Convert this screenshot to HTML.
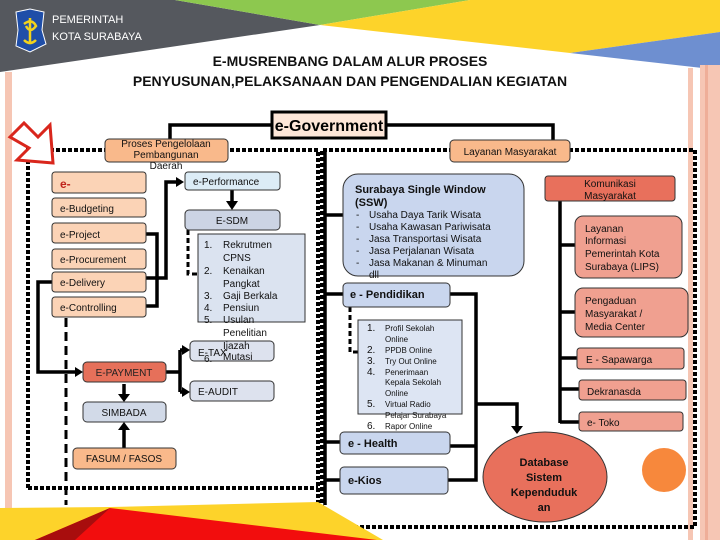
<!DOCTYPE html>
<html><head><meta charset="utf-8"><style>
html,body{margin:0;padding:0;background:#fff}
svg{display:block}
text{font-family:"Liberation Sans",sans-serif}
</style></head><body>
<svg width="720" height="540" viewBox="0 0 720 540" xmlns="http://www.w3.org/2000/svg">
<polygon points="0,0 175,0 320,25 0,72" fill="#55585e"/>
<polygon points="175,0 470,0 320,25" fill="#8dc84f"/>
<polygon points="320,25 470,0 720,0 720,32 570,53" fill="#fdd32a"/>
<polygon points="570,53 720,32 720,70" fill="#6e8fd0"/>
<rect x="5" y="72" width="7" height="468" fill="#f6c6b4"/>
<rect x="688" y="68" width="5" height="472" fill="#f6c6b4"/>
<rect x="700" y="65" width="20" height="475" fill="#f6c6b4"/>
<rect x="705" y="65" width="3" height="475" fill="#efae98"/>
<path d="M16,12 L30,9 L44,12 L42,30 L46,44 L30,52 L16,46 L18,30 Z" fill="#1f4ea8" stroke="#fff" stroke-width="1"/>
<path d="M24,24 q8,-6 12,2 q-6,8 -10,0 M30,18 v24 M24,40 q6,6 12,0" fill="none" stroke="#f2d21c" stroke-width="2.5"/>
<text x="52" y="23" font-size="11" fill="#fff">PEMERINTAH</text>
<text x="52" y="40" font-size="11" fill="#fff">KOTA SURABAYA</text>
<text x="350" y="66" font-size="14" font-weight="bold" text-anchor="middle" fill="#111">E-MUSRENBANG DALAM ALUR PROSES</text>
<text x="350" y="86" font-size="14" font-weight="bold" text-anchor="middle" fill="#111">PENYUSUNAN,PELAKSANAAN DAN PENGENDALIAN KEGIATAN</text>

<g fill="none" stroke="#000" stroke-width="4" stroke-dasharray="4,2">
<path d="M28,488 V150 H318 V505"/>
<path d="M28,488 H318"/>
<path d="M322,527 V150 H695 V527 H355"/>
</g>
<path d="M10,137 L24,123 L38,137 L50,125 L53,163 L17,160 L29,148 Z" fill="#fff" stroke="#d9261c" stroke-width="3"/>

<g fill="none" stroke="#000" stroke-width="3.5">
<path d="M272,125 H170 V140"/>
<path d="M386,125 H553 V140"/>
<path d="M146,234 H157 V278 H146"/>
<path d="M146,306 H157 V278 H166 V182 H180"/>
<path d="M52,282 H38 V372 H78"/>
<path d="M232,190 V204"/>
<path d="M166,372 H180"/>
<path d="M180,350 V392"/>
<path d="M180,350 H185 M180,392 H185"/>
<path d="M124,384 V398"/>
<path d="M124,448 V426"/>
<path d="M325,215 H343 M325,294 H343 M325,442 H340 M325,480 H340 M325,150 V505"/>
<path d="M450,294 H476 V480 H448 M450,446 H476 M476,404 H517 V430"/>
<path d="M560,200 V423 M560,245 H575 M560,312 H575 M560,358 H577 M560,389 H579 M560,422 H579"/>
</g>
<g fill="none" stroke="#000" stroke-width="3" stroke-dasharray="9,5">
<path d="M66,318 V505"/>
</g>
<g fill="none" stroke="#000" stroke-width="3" stroke-dasharray="5,3">
<path d="M188,230 V274 H198"/>
<path d="M350,307 V352 H358"/>
</g>
<g fill="#000">
<polygon points="184,182 176,177 176,187"/>
<polygon points="232,210 226,201 238,201"/>
<polygon points="83,372 75,367 75,377"/>
<polygon points="190,350 182,345 182,355"/>
<polygon points="190,392 182,387 182,397"/>
<polygon points="124,402 118,394 130,394"/>
<polygon points="124,422 118,430 130,430"/>
<polygon points="517,434 511,426 523,426"/>
</g>

<!-- bottom yellow/red shape -->
<polygon points="0,508 110,507 318,502 383,540 0,540" fill="#fdd32a"/>
<polygon points="35,540 110,508 377,540" fill="#f20d0d"/>
<polygon points="35,540 110,508 75,540" fill="#a80d0d"/>

<g stroke="#333" stroke-width="1">
<rect x="105" y="139" width="123" height="23" rx="4" fill="#f9b98b"/>
<rect x="52" y="172" width="94" height="21" rx="3" fill="#fbd3b6"/>
<rect x="52" y="198" width="94" height="19" rx="3" fill="#fbd3b6"/>
<rect x="52" y="223" width="94" height="20" rx="3" fill="#fbd3b6"/>
<rect x="52" y="249" width="94" height="20" rx="3" fill="#fbd3b6"/>
<rect x="52" y="272" width="94" height="20" rx="3" fill="#fbd3b6"/>
<rect x="52" y="297" width="94" height="20" rx="3" fill="#fbd3b6"/>
<rect x="185" y="172" width="95" height="18" rx="3" fill="#dcecf6"/>
<rect x="185" y="210" width="95" height="20" rx="4" fill="#ccd4e4"/>
<rect x="198" y="234" width="107" height="88" fill="#dbe3f0"/>
<rect x="190" y="341" width="84" height="20" rx="4" fill="#dde2ee"/>
<rect x="190" y="381" width="84" height="20" rx="4" fill="#dde2ee"/>
<rect x="83" y="362" width="83" height="20" rx="4" fill="#e6705a"/>
<rect x="83" y="402" width="83" height="20" rx="4" fill="#d2dae8"/>
<rect x="73" y="448" width="103" height="21" rx="4" fill="#f9b98b"/>
<rect x="272" y="112" width="114" height="26" fill="#fde6d8" stroke="#000" stroke-width="3"/>
</g>
<text x="329" y="131" font-size="16" font-weight="bold" text-anchor="middle">e-Government</text>
<g font-size="10" fill="#111">
<text x="166" y="147" text-anchor="middle">Proses Pengelolaan</text>
<text x="166" y="158" text-anchor="middle">Pembangunan</text>
<text x="166" y="169" text-anchor="middle">Daerah</text>
<text x="60" y="188" font-size="12" font-weight="bold" fill="#c0241c">e-</text>
<text x="60" y="212">e-Budgeting</text>
<text x="60" y="238">e-Project</text>
<text x="60" y="263">e-Procurement</text>
<text x="60" y="286">e-Delivery</text>
<text x="60" y="311">e-Controlling</text>
<text x="193" y="185">e-Performance</text>
<text x="232" y="224" text-anchor="middle">E-SDM</text>
<text x="204" y="248">1.</text><text x="223" y="248">Rekrutmen</text>
<text x="223" y="261">CPNS</text>
<text x="204" y="274">2.</text><text x="223" y="274">Kenaikan</text>
<text x="223" y="287">Pangkat</text>
<text x="204" y="299">3.</text><text x="223" y="299">Gaji Berkala</text>
<text x="204" y="311">4.</text><text x="223" y="311">Pensiun</text>
<text x="204" y="323">5.</text><text x="223" y="323">Usulan</text>
<text x="223" y="336">Penelitian</text>
<text x="223" y="349">Ijazah</text>
<text x="198" y="356">E-TAX</text>
<text x="204" y="362">6.</text><text x="223" y="360">Mutasi</text>
<text x="198" y="395">E-AUDIT</text>
<text x="124" y="376" text-anchor="middle" fill="#222">E-PAYMENT</text>
<text x="124" y="416" text-anchor="middle">SIMBADA</text>
<text x="124" y="462" text-anchor="middle">FASUM / FASOS</text>
</g>

<g stroke="#333" stroke-width="1">
<rect x="450" y="140" width="120" height="22" rx="4" fill="#f9b98b"/>
<rect x="343" y="174" width="181" height="102" rx="15" fill="#c9d6ee"/>
<rect x="343" y="283" width="107" height="24" rx="4" fill="#c9d6ee"/>
<rect x="358" y="320" width="104" height="94" fill="#dde5f3"/>
<rect x="340" y="432" width="110" height="22" rx="4" fill="#c9d6ee"/>
<rect x="340" y="467" width="108" height="27" rx="4" fill="#c9d6ee"/>
<ellipse cx="545" cy="477" rx="62" ry="45" fill="#e8705c"/>
<rect x="545" y="176" width="130" height="25" rx="3" fill="#e8705c"/>
<rect x="575" y="216" width="107" height="62" rx="8" fill="#f0a090"/>
<rect x="575" y="288" width="113" height="49" rx="8" fill="#f0a090"/>
<rect x="577" y="348" width="107" height="21" rx="3" fill="#f0a090"/>
<rect x="579" y="380" width="107" height="20" rx="3" fill="#f0a090"/>
<rect x="579" y="412" width="104" height="19" rx="3" fill="#f0a090"/>
</g>
<circle cx="664" cy="470" r="22" fill="#f7883c"/>
<g font-size="10" fill="#111">
<text x="510" y="155" text-anchor="middle">Layanan Masyarakat</text>
<text x="355" y="193" font-size="11" font-weight="bold">Surabaya Single Window</text>
<text x="355" y="206" font-size="11" font-weight="bold">(SSW)</text>
<text x="356" y="218">-</text><text x="369" y="218">Usaha Daya Tarik Wisata</text>
<text x="356" y="230">-</text><text x="369" y="230">Usaha Kawasan Pariwisata</text>
<text x="356" y="242">-</text><text x="369" y="242">Jasa Transportasi Wisata</text>
<text x="356" y="254">-</text><text x="369" y="254">Jasa Perjalanan Wisata</text>
<text x="356" y="266">-</text><text x="369" y="266">Jasa Makanan &amp; Minuman</text>
<text x="369" y="278">dll</text>
<text x="350" y="298" font-size="11" font-weight="bold">e - Pendidikan</text>
<g font-size="8">
<text x="367" y="331" font-size="10">1.</text><text x="385" y="331">Profil Sekolah</text>
<text x="385" y="342">Online</text>
<text x="367" y="353" font-size="10">2.</text><text x="385" y="353">PPDB Online</text>
<text x="367" y="364" font-size="10">3.</text><text x="385" y="364">Try Out Online</text>
<text x="367" y="375" font-size="10">4.</text><text x="385" y="375">Penerimaan</text>
<text x="385" y="385">Kepala Sekolah</text>
<text x="385" y="396">Online</text>
<text x="367" y="407" font-size="10">5.</text><text x="385" y="407">Virtual Radio</text>
<text x="385" y="418">Pelajar Surabaya</text>
<text x="367" y="429" font-size="10">6.</text><text x="385" y="429">Rapor Online</text>
</g>
<text x="348" y="447" font-size="11" font-weight="bold">e - Health</text>
<text x="348" y="484" font-size="11" font-weight="bold">e-Kios</text>
<g font-size="11" font-weight="bold" text-anchor="middle">
<text x="544" y="466">Database</text>
<text x="544" y="481">Sistem</text>
<text x="544" y="496">Kependuduk</text>
<text x="544" y="511">an</text>
</g>
<text x="610" y="187" text-anchor="middle">Komunikasi</text>
<text x="610" y="199" text-anchor="middle">Masyarakat</text>
<text x="585" y="232">Layanan</text>
<text x="585" y="244">Informasi</text>
<text x="585" y="257">Pemerintah Kota</text>
<text x="585" y="270">Surabaya (LIPS)</text>
<text x="585" y="304">Pengaduan</text>
<text x="585" y="317">Masyarakat /</text>
<text x="585" y="330">Media Center</text>
<text x="586" y="363">E -  Sapawarga</text>
<text x="587" y="395">Dekranasda</text>
<text x="587" y="426">e- Toko</text>
</g>
</svg>
</body></html>
